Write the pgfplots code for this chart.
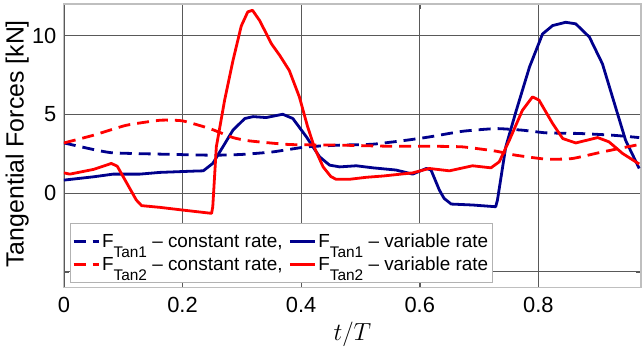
\documentclass[border=0pt]{standalone}
\usepackage{fontspec}
\setmainfont{Liberation Sans}
\usepackage{pgfplots}
\pgfplotsset{compat=1.18}
\definecolor{navy}{RGB}{0,0,140}
\newcommand{\sub}[1]{\raisebox{-10bp}{\fontsize{15.5}{15.5}\selectfont #1}}
\begin{document}
\begin{tikzpicture}
\begin{axis}[name=ax, scale only axis, width=578bp, height=284bp,
 xmin=0, xmax=0.973, ymin=-6, ymax=12,
 xtick={0,0.2,0.4,0.6,0.8}, xticklabels={0,0.2,0.4,0.6,0.8},
 ytick={-5,0,5,10}, yticklabels={,0,5,10},
 grid=major, major grid style={draw=black!65, line width=0.6bp},
 axis line style={draw=black!25, line width=1.2bp},
 tick style={draw=black!65}, tick align=inside, major tick length=5bp,
 ticklabel style={font=\fontsize{22}{24}\selectfont},
 xticklabel style={yshift=-6bp},
 yticklabel style={xshift=-4bp},
 xlabel={$t/T$}, xlabel style={font=\fontsize{23}{25}\selectfont, at={(axis description cs:0.5,-0.165)}, anchor=center},
 ylabel={Tangential Forces [kN]}, ylabel style={font=\fontsize{25}{28}\selectfont, at={(axis description cs:-0.081,0.507)}, anchor=center},
 legend columns=2, legend cell align=left,
 legend style={at={(0.0104,0.0176)}, anchor=south west, draw=black!30, line width=0.8bp,
   font=\fontsize{19}{20}\selectfont, row sep=4bp, inner xsep=2bp, inner ysep=8bp,
   /tikz/every even column/.append style={column sep=4bp}},
 legend image code/.code={\draw[#1] (0bp,0bp) -- (25bp,0bp);},
 every axis plot/.append style={line width=2.8bp, line join=round},
]
\addplot[navy, dash pattern=on 12bp off 7bp, smooth, tension=0.3] coordinates {
(0,3.18)(0.05,2.76)(0.083,2.55)(0.162,2.47)(0.251,2.4)(0.3,2.45)(0.352,2.61)(0.409,2.93)(0.465,3.04)(0.521,3.1)(0.577,3.35)(0.616,3.56)(0.672,3.92)(0.728,4.09)(0.773,3.99)(0.813,3.82)(0.869,3.78)(0.925,3.67)(0.97,3.52)};
\addlegendentry{F\sub{Tan1} -- constant rate,}
\addplot[navy] coordinates {
(0,0.82)(0.05,1.03)(0.083,1.2)(0.128,1.2)(0.162,1.31)(0.218,1.39)(0.235,1.41)(0.251,1.88)(0.268,2.93)(0.285,3.99)(0.305,4.73)(0.319,4.85)(0.341,4.79)(0.369,5.0)(0.386,4.73)(0.409,3.56)(0.431,2.3)(0.448,1.77)(0.465,1.66)(0.493,1.73)(0.521,1.6)(0.56,1.46)(0.588,1.2)(0.611,1.56)(0.619,1.46)(0.633,0.19)(0.641,-0.34)(0.653,-0.7)(0.689,-0.76)(0.728,-0.87)(0.731,-0.44)(0.745,2.93)(0.762,5.15)(0.785,8.0)(0.807,10.1)(0.824,10.63)(0.846,10.84)(0.863,10.74)(0.886,9.9)(0.908,8.2)(0.93,5.46)(0.947,3.35)(0.97,1.56)};
\addlegendentry{F\sub{Tan1} -- variable rate}
\addplot[red, dash pattern=on 12bp off 7bp, smooth, tension=0.3] coordinates {
(0,3.18)(0.05,3.67)(0.105,4.3)(0.162,4.62)(0.2,4.58)(0.246,4.09)(0.285,3.52)(0.313,3.31)(0.38,3.08)(0.465,3.04)(0.549,2.97)(0.616,2.97)(0.672,2.93)(0.728,2.66)(0.762,2.4)(0.813,2.15)(0.857,2.19)(0.908,2.61)(0.97,3.08)};
\addlegendentry{F\sub{Tan2} -- constant rate,}
\addplot[red] coordinates {
(0,1.28)(0.01,1.2)(0.03,1.35)(0.05,1.5)(0.07,1.75)(0.08,1.88)(0.09,1.7)(0.105,0.7)(0.122,-0.44)(0.131,-0.8)(0.162,-0.91)(0.2,-1.08)(0.249,-1.29)(0.251,-0.87)(0.257,2.93)(0.271,5.9)(0.285,8.4)(0.299,10.6)(0.310,11.5)(0.318,11.6)(0.33,10.95)(0.35,9.47)(0.364,8.73)(0.38,7.78)(0.397,6.1)(0.411,4.2)(0.423,2.83)(0.437,1.66)(0.45,1.05)(0.459,0.87)(0.481,0.87)(0.51,1.0)(0.538,1.08)(0.588,1.28)(0.616,1.56)(0.65,1.41)(0.689,1.73)(0.72,1.6)(0.734,1.98)(0.751,3.35)(0.773,5.25)(0.79,6.1)(0.801,5.9)(0.824,4.41)(0.841,3.46)(0.863,3.18)(0.9,3.52)(0.919,3.25)(0.942,2.51)(0.97,1.84)};
\addlegendentry{F\sub{Tan2} -- variable rate}
\end{axis}
\pgfresetboundingbox
\path ([shift={(-64bp,-66bp)}]ax.south west) rectangle ([shift={(1bp,4bp)}]ax.north east);
\end{tikzpicture}
\end{document}
